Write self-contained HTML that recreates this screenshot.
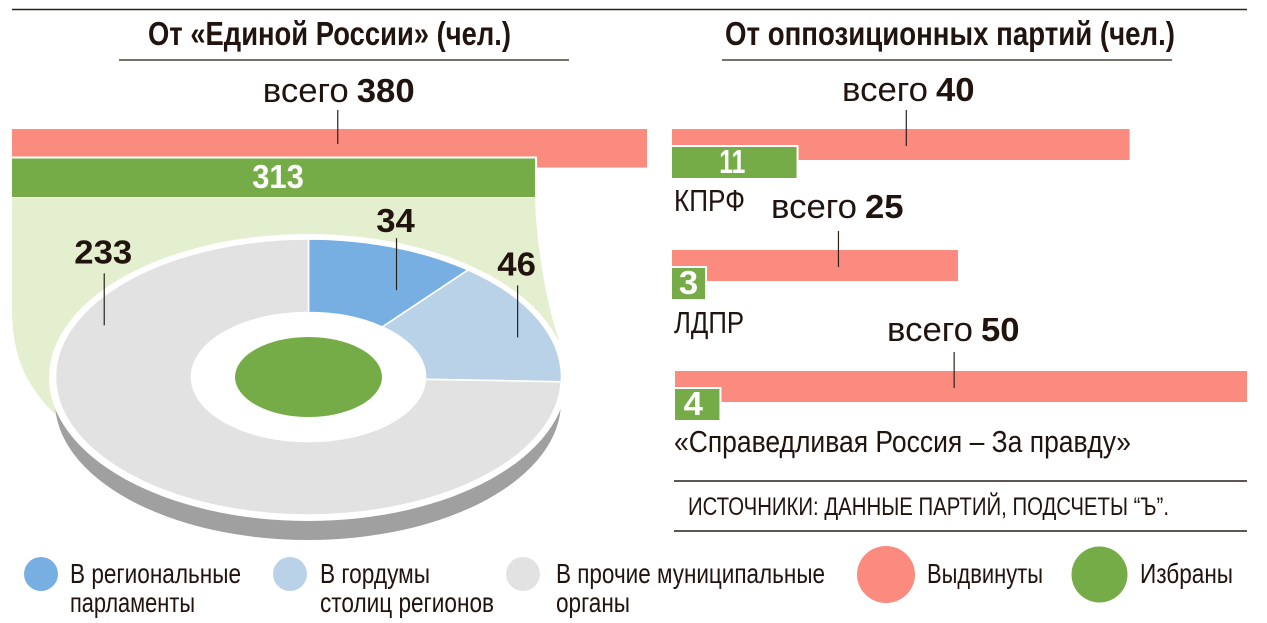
<!DOCTYPE html>
<html lang="ru">
<head>
<meta charset="utf-8">
<title>Выдвинуты и избраны</title>
<style>
  html, body { margin: 0; padding: 0; background: #fff; width: 1267px; height: 623px; overflow: hidden; }
  svg { display: block; }
  text { font-family: "Liberation Sans", "DejaVu Sans", sans-serif; fill: #21130d; }
  .b { font-weight: 700; }
  .leg { font-size: 28px; }
</style>
</head>
<body>
<svg id="chart" xmlns="http://www.w3.org/2000/svg" width="1267" height="623" viewBox="0 0 1267 623">
  <rect width="1267" height="623" fill="#fff"/>
  <line x1="12" y1="9.5" x2="1247" y2="9.5" stroke="#2a2118" stroke-width="1.4"/>

  <text class="b" x="148" y="45" font-size="33" textLength="363" lengthAdjust="spacingAndGlyphs">От «Единой России» (чел.)</text>
  <line x1="119" y1="60" x2="569" y2="60" stroke="#4a4438" stroke-width="1.4"/>
  <text class="b" x="725" y="45" font-size="33" textLength="450" lengthAdjust="spacingAndGlyphs">От оппозиционных партий (чел.)</text>
  <line x1="722" y1="60" x2="1172" y2="60" stroke="#4a4438" stroke-width="1.4"/>

  <g id="left-bars"></g>
  <g id="pie"></g>
  <g id="right-bars"></g>

  <line x1="674" y1="481" x2="1247" y2="481" stroke="#2a2118" stroke-width="1.4"/>
  <text x="688" y="515" font-size="25" textLength="481" lengthAdjust="spacingAndGlyphs">ИСТОЧНИКИ: ДАННЫЕ ПАРТИЙ, ПОДСЧЕТЫ “Ъ”.</text>
  <line x1="674" y1="531" x2="1247" y2="531" stroke="#2a2118" stroke-width="1.4"/>

  <g>
    <g>
      <ellipse cx="41" cy="574" rx="17" ry="17" fill="#78afe2"/>
      <text class="leg" x="70" y="583" textLength="171" lengthAdjust="spacingAndGlyphs">В региональные</text>
      <text class="leg" x="70" y="612" textLength="125" lengthAdjust="spacingAndGlyphs">парламенты</text>
    </g>
    <g>
      <ellipse cx="290" cy="574" rx="17" ry="17" fill="#b9d2e8"/>
      <text class="leg" x="320" y="583" textLength="110" lengthAdjust="spacingAndGlyphs">В гордумы</text>
      <text class="leg" x="320" y="612" textLength="174" lengthAdjust="spacingAndGlyphs">столиц регионов</text>
    </g>
    <g>
      <ellipse cx="523" cy="574" rx="17" ry="17" fill="#e2e2e2"/>
      <text class="leg" x="556" y="583" textLength="269" lengthAdjust="spacingAndGlyphs">В прочие муниципальные</text>
      <text class="leg" x="556" y="612" textLength="74" lengthAdjust="spacingAndGlyphs">органы</text>
    </g>
    <g>
      <ellipse cx="886" cy="574.5" rx="29" ry="28.5" fill="#fc8b7f"/>
      <text class="leg" x="927" y="583" textLength="116" lengthAdjust="spacingAndGlyphs">Выдвинуты</text>
    </g>
    <g>
      <ellipse cx="1099.5" cy="574.5" rx="28" ry="28" fill="#76ac48"/>
      <text class="leg" x="1140" y="583" textLength="93" lengthAdjust="spacingAndGlyphs">Избраны</text>
    </g>
  </g>
</svg>

<script>
// ---- chart data ----
var urNominated = 380;
var urElected = 313;
var pieCategories = ["regional-parliaments", "city-councils", "other-municipal"];
var pieValues = [34, 46, 233];
var partyNames = ["КПРФ", "ЛДПР", "«Справедливая Россия – За правду»"];
var partyNominated = [40, 25, 50];
var partyElected = [11, 3, 4];

// ---- axis functions ----
var NS = "http://www.w3.org/2000/svg";
function xLeft(v) { return v * 635 / 380; }
function xRight(v) { return v * 572 / 50; }
function make(parent, tag) {
  var el = document.createElementNS(NS, tag);
  parent.appendChild(el);
  return el;
}
function setAll(el, attrs) {
  for (var k in attrs) { el.setAttribute(k, attrs[k]); }
}
function numberWidth(s) {
  var w = 0;
  for (var i = 0; i < s.length; i++) { w += s.charAt(i) === "1" ? 13 : 19.3; }
  return w;
}
function putNumber(el, text, centerX, baseline, fill) {
  var w = numberWidth(text);
  setAll(el, { x: centerX - w / 2, y: baseline, "font-size": 33, "font-weight": 700, textLength: w, lengthAdjust: "spacingAndGlyphs" });
  if (fill) { el.style.fill = fill; }
  el.textContent = text;
}
function putTotal(parent, key, value, leftX, baseline) {
  var word = make(parent, "text");
  
  
  setAll(word, { x: leftX, y: baseline, "font-size": 34, textLength: 86, lengthAdjust: "spacingAndGlyphs" });
  word.textContent = "всего";
  var num = make(parent, "text");
  
  
  var s = String(value);
  var w = numberWidth(s);
  setAll(num, { x: leftX + 94, y: baseline, "font-size": 33, "font-weight": 700, textLength: w, lengthAdjust: "spacingAndGlyphs" });
  num.textContent = s;
}
function putLeader(parent, key, x, y1, y2) {
  var l = make(parent, "line");
  
  
  setAll(l, { x1: x, y1: y1, x2: x, y2: y2, stroke: "#2a2118", "stroke-width": 1.2 });
}
function putElectedBar(parent, key, x, y, value, scale, h, labelShift, inset) {
  var w = scale(value) - inset;
  var halo = make(parent, "rect");
  
  
  setAll(halo, { x: x, y: y - 2, width: w + 2, height: h + 3, fill: "#fff" });
  var bar = make(parent, "rect");
  
  
  setAll(bar, { x: x, y: y, width: w, height: h, fill: "#76ac48" });
  var t = make(parent, "text");
  
  
  putNumber(t, String(value), x + w / 2 + labelShift, y + h - 5 - (h > 35 ? 4 : 0), "#fff");
}

// ---- left bars ----
(function () {
  var g = document.getElementById("left-bars");
  var x0 = 12;
  var nomW = xLeft(urNominated);
  var red = make(g, "rect");
  
  
  setAll(red, { x: x0, y: 129, width: nomW, height: 38.5, fill: "#fc8b7f" });

  var right = x0 + xLeft(urElected);
  var area = make(g, "path");
  
  
  setAll(area, {
    d: "M" + x0 + ",197 L" + right + ",197 C" + (right + 1) + ",240 " + (right + 10) + ",300 " + (right + 24) + ",340 L308,400 L55,414 C30,390 12,360 12,310 Z",
    fill: "#e4efcf"
  });

  putElectedBar(g, "united-russia", x0, 158.5, urElected, xLeft, 38.5, 4.5, 0);

  var lx = x0 + nomW * 0.513;
  putLeader(g, "united-russia-total", lx, 110, 144);
  putTotal(g, "united-russia", urNominated, lx - 75, 102);
})();

// ---- donut ----
(function () {
  var g = document.getElementById("pie");
  var cx = 308.5, cy = 377, rx = 253, ry = 138, hx = 117, hy = 64.5;
  var colors = ["#78afe2", "#b9d2e8", "#e2e2e2"];
  var total = 0;
  pieValues.forEach(function (v) { total += v; });
  function px(r, a) { return cx + r * Math.sin(a); }
  function py(r, a) { return cy - r * Math.cos(a); }
  function angle(v) { return v / total * 2 * Math.PI; }

  var side = make(g, "ellipse");
  
  
  setAll(side, { cx: 308, cy: 402, rx: 253, ry: 138, fill: "#a0a0a0" });

  var rim = make(g, "ellipse");
  
  
  setAll(rim, { cx: 308, cy: 377.5, rx: 259, ry: 143.5, fill: "#fff" });

  var start = 0;
  var spans = [];
  pieValues.forEach(function (v, i) {
    var end = start + angle(v);
    var large = end - start > Math.PI ? 1 : 0;
    var d = "M" + px(hx, start) + "," + py(hy, start) +
      " L" + px(rx, start) + "," + py(ry, start) +
      " A" + rx + "," + ry + " 0 " + large + " 1 " + px(rx, end) + "," + py(ry, end) +
      " L" + px(hx, end) + "," + py(hy, end) +
      " A" + hx + "," + hy + " 0 " + large + " 0 " + px(hx, start) + "," + py(hy, start) + " Z";
    var p = make(g, "path");
    
    
    setAll(p, { d: d, fill: colors[i], stroke: "#fff", "stroke-width": 1.6 });
    spans.push([start, end]);
    start = end;
  });

  var hole = make(g, "ellipse");
  
  
  setAll(hole, { cx: cx, cy: cy + 0.5, rx: hx, ry: hy, fill: "#fff" });

  var core = make(g, "ellipse");
  
  
  setAll(core, { cx: cx, cy: cy, rx: 73.5, ry: 40, fill: "#76ac48" });

  function label(i, frac, rad, len, gap) {
    var a = spans[i][0] + (spans[i][1] - spans[i][0]) * frac;
    var x = cx + rx * rad * Math.sin(a);
    var yEnd = cy - ry * rad * Math.cos(a);
    var yTop = yEnd - len;
    putLeader(g, pieCategories[i], x, yTop, yEnd);
    var t = make(g, "text");
    
    
    putNumber(t, String(pieValues[i]), x - 1, yTop - gap);
  }
  label(0, 0.74, 0.719, 52, 6);
  label(1, 0.6, 0.875, 52, 10);
  label(2, 0.757, 0.89, 52, 10);
})();

// ---- right bars ----
(function () {
  var g = document.getElementById("right-bars");
  function row(i, x0, top, leaderFrac, totalY, totalX, nameY, nameW, labelShift) {
    var key = "party-" + (i + 1);
    var w = xRight(partyNominated[i]);
    var red = make(g, "rect");
    
    
    setAll(red, { x: x0, y: top, width: w, height: 31, fill: "#fc8b7f" });
    putElectedBar(g, key, x0, top + 18, partyElected[i], xRight, 31, labelShift, 1.3);
    var lx = x0 + w * leaderFrac;
    putLeader(g, key + "-total", lx, top - 19, top + 17);
    putTotal(g, key, partyNominated[i], totalX, totalY);
    var n = make(g, "text");
    
    
    setAll(n, { x: 674, y: nameY, "font-size": 31, textLength: nameW, lengthAdjust: "spacingAndGlyphs" });
    n.textContent = partyNames[i];
  }
  row(0, 672, 129, 0.512, 101, 842, 211, 71, -2);
  row(1, 672, 250, 0.582, 218, 771, 333, 70, 0);
  row(2, 675, 371, 0.488, 341, 887, 452, 457, -4);
})();
</script>
</body>
</html>
